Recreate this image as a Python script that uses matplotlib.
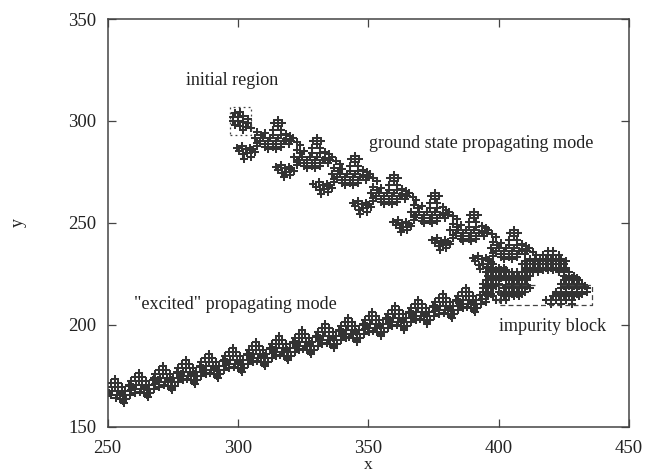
# impurity scattering map: trajectory points in the x-y plane
import matplotlib
matplotlib.use("Agg")
import matplotlib.pyplot as plt

plt.rcParams['font.family'] = ['Liberation Serif', 'DejaVu Serif']

# points
initial_x = [299, 301, 298, 300, 302, 304, 298, 300, 302, 304, 299, 301, 303, 302, 305]
initial_y = [304, 304.5, 302, 302, 302.5, 301, 300, 300, 299.5, 299, 298, 297.5, 297, 295.5, 296.5]

ground_x = [
    315.5, 314, 317, 315.5, 313.5, 316.5, 318.5, 307.5, 310.5, 306.5, 309.5, 312.5, 315.5, 318.5, 321, 307.5, 310.5, 313.5, 316.5, 319.5, 311.5, 314.5, 301.5, 304.5, 300.5, 303.5, 306.5, 302.5,
    309, 313.5, 316.5, 320, 308.5, 311.5, 314.5, 317.5, 320.5, 307.5, 310.5, 313.5, 316.5, 322.5, 324, 303, 305.5, 302, 305, 299.5,
    330.5, 329, 332, 330.5, 328.5, 331.5, 333.5, 322.5, 325.5, 321.5, 324.5, 327.5, 330.5, 333.5, 336, 322.5, 325.5, 328.5, 331.5, 334.5, 326.5, 329.5, 316.5, 319.5, 315.5, 318.5, 321.5, 317.5,
    324, 328.5, 331.5, 335, 323.5, 326.5, 329.5, 332.5, 335.5, 322.5, 325.5, 328.5, 331.5, 337.5, 339, 318, 320.5, 317, 320, 314.5,
    345, 343.5, 346.5, 345, 343, 346, 348, 337, 340, 336, 339, 342, 345, 348, 350.5, 337, 340, 343, 346, 349, 341, 344, 331, 334, 330, 333, 336, 332,
    338.5, 343, 346, 349.5, 338, 341, 344, 347, 350, 337, 340, 343, 346, 352, 353.5, 332.5, 335, 331.5, 334.5, 329,
    360, 358.5, 361.5, 360, 358, 361, 363, 352, 355, 351, 354, 357, 360, 363, 365.5, 352, 355, 358, 361, 364, 356, 359, 346, 349, 345, 348, 351, 347,
    353.5, 358, 361, 364.5, 353, 356, 359, 362, 365, 352, 355, 358, 361, 367, 368.5, 347.5, 350, 346.5, 349.5, 344,
    375.5, 374, 377, 375.5, 373.5, 376.5, 378.5, 367.5, 370.5, 366.5, 369.5, 372.5, 375.5, 378.5, 381, 367.5, 370.5, 373.5, 376.5, 379.5, 371.5, 374.5, 361.5, 364.5, 360.5, 363.5, 366.5, 362.5,
    369, 373.5, 376.5, 380, 368.5, 371.5, 374.5, 377.5, 380.5, 367.5, 370.5, 373.5, 376.5, 382.5, 384, 363, 365.5, 362, 365, 359.5,
    390.5, 389, 392, 390.5, 388.5, 391.5, 393.5, 382.5, 385.5, 381.5, 384.5, 387.5, 390.5, 393.5, 396, 382.5, 385.5, 388.5, 391.5, 394.5, 386.5, 389.5, 376.5, 379.5, 375.5, 378.5, 381.5, 377.5,
    384, 388.5, 391.5, 395, 383.5, 386.5, 389.5, 392.5, 395.5, 382.5, 385.5, 388.5, 391.5, 397.5, 399, 378, 380.5, 377, 380, 374.5,
    406, 404.5, 407.5, 406, 404, 407, 409, 398, 401, 397, 400, 403, 406, 409, 411.5, 398, 401, 404, 407, 410, 402, 405, 392, 395, 391, 394, 397, 393,
    399.5, 404, 407, 410.5, 399, 402, 405, 408, 411, 398, 401, 404, 407, 413, 414.5, 393.5, 396, 392.5, 395.5, 390,
]
ground_y = [
    300.5, 299, 299, 297.5, 295.5, 295.5, 293.5, 294.5, 294, 291.5, 291.5, 291.5, 291.5, 291, 291.5, 289, 288.5, 288.5, 288.5, 288.5, 286, 286, 287.5, 286.5, 285, 284, 284.5, 281.5,
    293, 293, 293, 292.5, 290, 290, 290, 290, 290, 287.5, 287, 287, 287, 289.5, 288, 286, 285.5, 283.5, 282.5, 286.5,
    291.5, 290, 290, 288.5, 286.5, 286.5, 284.5, 285.5, 285, 282.5, 282.5, 282.5, 282.5, 282, 282.5, 280, 279.5, 279.5, 279.5, 279.5, 277, 277, 278.5, 277.5, 276, 275, 275.5, 272.5,
    284, 284, 284, 283.5, 281, 281, 281, 281, 281, 278.5, 278, 278, 278, 280.5, 279, 277, 276.5, 274.5, 273.5, 277.5,
    283, 281.5, 281.5, 280, 278, 278, 276, 277, 276.5, 274, 274, 274, 274, 273.5, 274, 271.5, 271, 271, 271, 271, 268.5, 268.5, 270, 269, 267.5, 266.5, 267, 264,
    275.5, 275.5, 275.5, 275, 272.5, 272.5, 272.5, 272.5, 272.5, 270, 269.5, 269.5, 269.5, 272, 270.5, 268.5, 268, 266, 265, 269,
    273.5, 272, 272, 270.5, 268.5, 268.5, 266.5, 267.5, 267, 264.5, 264.5, 264.5, 264.5, 264, 264.5, 262, 261.5, 261.5, 261.5, 261.5, 259, 259, 260.5, 259.5, 258, 257, 257.5, 254.5,
    266, 266, 266, 265.5, 263, 263, 263, 263, 263, 260.5, 260, 260, 260, 262.5, 261, 259, 258.5, 256.5, 255.5, 259.5,
    264.5, 263, 263, 261.5, 259.5, 259.5, 257.5, 258.5, 258, 255.5, 255.5, 255.5, 255.5, 255, 255.5, 253, 252.5, 252.5, 252.5, 252.5, 250, 250, 251.5, 250.5, 249, 248, 248.5, 245.5,
    257, 257, 257, 256.5, 254, 254, 254, 254, 254, 251.5, 251, 251, 251, 253.5, 252, 250, 249.5, 247.5, 246.5, 250.5,
    255.5, 254, 254, 252.5, 250.5, 250.5, 248.5, 249.5, 249, 246.5, 246.5, 246.5, 246.5, 246, 246.5, 244, 243.5, 243.5, 243.5, 243.5, 241, 241, 242.5, 241.5, 240, 239, 239.5, 236.5,
    248, 248, 248, 247.5, 245, 245, 245, 245, 245, 242.5, 242, 242, 242, 244.5, 243, 241, 240.5, 238.5, 237.5, 241.5,
    246.5, 245, 245, 243.5, 241.5, 241.5, 239.5, 240.5, 240, 237.5, 237.5, 237.5, 237.5, 237, 237.5, 235, 234.5, 234.5, 234.5, 234.5, 232, 232, 233.5, 232.5, 231, 230, 230.5, 227.5,
    239, 239, 239, 238.5, 236, 236, 236, 236, 236, 233.5, 233, 233, 233, 235.5, 234, 232, 231.5, 229.5, 228.5, 232.5,
]

excited_x = [
    252.7, 251.4, 254, 249.9, 252.7, 255.5, 249.2, 251.7, 254.2, 256.7, 251.2, 253.7, 256.2, 254.7, 257.2, 256.2, 258.2, 259.2, 258.7, 260.5, 250.7, 253.2, 255.7, 255.9,
    261.9, 260.6, 263.2, 259.1, 261.9, 264.7, 258.4, 260.9, 263.4, 265.9, 260.4, 262.9, 265.4, 263.9, 266.4, 265.4, 267.4, 268.4, 267.9, 269.7, 259.9, 262.4, 264.9, 265.1,
    271.2, 269.9, 272.5, 268.4, 271.2, 274, 267.7, 270.2, 272.7, 275.2, 269.7, 272.2, 274.7, 273.2, 275.7, 274.7, 276.7, 277.7, 277.2, 279, 269.2, 271.7, 274.2, 274.4,
    280, 278.7, 281.3, 277.2, 280, 282.8, 276.5, 279, 281.5, 284, 278.5, 281, 283.5, 282, 284.5, 283.5, 285.5, 286.5, 286, 287.8, 278, 280.5, 283, 283.2,
    288.8, 287.5, 290.1, 286, 288.8, 291.6, 285.3, 287.8, 290.3, 292.8, 287.3, 289.8, 292.3, 290.8, 293.3, 292.3, 294.3, 295.3, 294.8, 296.6, 286.8, 289.3, 291.8, 292,
    298, 296.7, 299.3, 295.2, 298, 300.8, 294.5, 297, 299.5, 302, 296.5, 299, 301.5, 300, 302.5, 301.5, 303.5, 304.5, 304, 305.8, 296, 298.5, 301, 301.2,
    306.9, 305.6, 308.2, 304.1, 306.9, 309.7, 303.4, 305.9, 308.4, 310.9, 305.4, 307.9, 310.4, 308.9, 311.4, 310.4, 312.4, 313.4, 312.9, 314.7, 304.9, 307.4, 309.9, 310.1,
    315.8, 314.5, 317.1, 313, 315.8, 318.6, 312.3, 314.8, 317.3, 319.8, 314.3, 316.8, 319.3, 317.8, 320.3, 319.3, 321.3, 322.3, 321.8, 323.6, 313.8, 316.3, 318.8, 319,
    324.6, 323.3, 325.9, 321.8, 324.6, 327.4, 321.1, 323.6, 326.1, 328.6, 323.1, 325.6, 328.1, 326.6, 329.1, 328.1, 330.1, 331.1, 330.6, 332.4, 322.6, 325.1, 327.6, 327.8,
    333.5, 332.2, 334.8, 330.7, 333.5, 336.3, 330, 332.5, 335, 337.5, 332, 334.5, 337, 335.5, 338, 337, 339, 340, 339.5, 341.3, 331.5, 334, 336.5, 336.7,
    342.3, 341, 343.6, 339.5, 342.3, 345.1, 338.8, 341.3, 343.8, 346.3, 340.8, 343.3, 345.8, 344.3, 346.8, 345.8, 347.8, 348.8, 348.3, 350.1, 340.3, 342.8, 345.3, 345.5,
    351.5, 350.2, 352.8, 348.7, 351.5, 354.3, 348, 350.5, 353, 355.5, 350, 352.5, 355, 353.5, 356, 355, 357, 358, 357.5, 359.3, 349.5, 352, 354.5, 354.7,
    360.4, 359.1, 361.7, 357.6, 360.4, 363.2, 356.9, 359.4, 361.9, 364.4, 358.9, 361.4, 363.9, 362.4, 364.9, 363.9, 365.9, 366.9, 366.4, 368.2, 358.4, 360.9, 363.4, 363.6,
    369.2, 367.9, 370.5, 366.4, 369.2, 372, 365.7, 368.2, 370.7, 373.2, 367.7, 370.2, 372.7, 371.2, 373.7, 372.7, 374.7, 375.7, 375.2, 377, 367.2, 369.7, 372.2, 372.4,
    378.5, 377.2, 379.8, 375.7, 378.5, 381.3, 375, 377.5, 380, 382.5, 377, 379.5, 382, 380.5, 383, 382, 384, 385, 384.5, 386.3, 376.5, 379, 381.5, 381.7,
    387.3, 386, 388.6, 384.5, 387.3, 390.1, 383.8, 386.3, 388.8, 391.3, 385.8, 388.3, 390.8, 389.3, 391.8, 390.8, 392.8, 393.8, 393.3, 395.1, 385.3, 387.8, 390.3, 390.5,
]
excited_y = [
    173.3, 171.3, 171.3, 169.3, 169.3, 169.3, 167.3, 167.3, 167.3, 167.3, 165.3, 165.3, 165.3, 163.3, 163.3, 161.3, 169.8, 167.8, 165.3, 166.3, 166.3, 163.8, 166.3, 162.3,
    176.3, 174.3, 174.3, 172.3, 172.3, 172.3, 170.3, 170.3, 170.3, 170.3, 168.3, 168.3, 168.3, 166.3, 166.3, 164.3, 172.8, 170.8, 168.3, 169.3, 169.3, 166.8, 169.3, 165.3,
    179.7, 177.7, 177.7, 175.7, 175.7, 175.7, 173.7, 173.7, 173.7, 173.7, 171.7, 171.7, 171.7, 169.7, 169.7, 167.7, 176.2, 174.2, 171.7, 172.7, 172.7, 170.2, 172.7, 168.7,
    182.7, 180.7, 180.7, 178.7, 178.7, 178.7, 176.7, 176.7, 176.7, 176.7, 174.7, 174.7, 174.7, 172.7, 172.7, 170.7, 179.2, 177.2, 174.7, 175.7, 175.7, 173.2, 175.7, 171.7,
    185.6, 183.6, 183.6, 181.6, 181.6, 181.6, 179.6, 179.6, 179.6, 179.6, 177.6, 177.6, 177.6, 175.6, 175.6, 173.6, 182.1, 180.1, 177.6, 178.6, 178.6, 176.1, 178.6, 174.6,
    188.6, 186.6, 186.6, 184.6, 184.6, 184.6, 182.6, 182.6, 182.6, 182.6, 180.6, 180.6, 180.6, 178.6, 178.6, 176.6, 185.1, 183.1, 180.6, 181.6, 181.6, 179.1, 181.6, 177.6,
    191.5, 189.5, 189.5, 187.5, 187.5, 187.5, 185.5, 185.5, 185.5, 185.5, 183.5, 183.5, 183.5, 181.5, 181.5, 179.5, 188, 186, 183.5, 184.5, 184.5, 182, 184.5, 180.5,
    194.5, 192.5, 192.5, 190.5, 190.5, 190.5, 188.5, 188.5, 188.5, 188.5, 186.5, 186.5, 186.5, 184.5, 184.5, 182.5, 191, 189, 186.5, 187.5, 187.5, 185, 187.5, 183.5,
    197.5, 195.5, 195.5, 193.5, 193.5, 193.5, 191.5, 191.5, 191.5, 191.5, 189.5, 189.5, 189.5, 187.5, 187.5, 185.5, 194, 192, 189.5, 190.5, 190.5, 188, 190.5, 186.5,
    200.4, 198.4, 198.4, 196.4, 196.4, 196.4, 194.4, 194.4, 194.4, 194.4, 192.4, 192.4, 192.4, 190.4, 190.4, 188.4, 196.9, 194.9, 192.4, 193.4, 193.4, 190.9, 193.4, 189.4,
    203.4, 201.4, 201.4, 199.4, 199.4, 199.4, 197.4, 197.4, 197.4, 197.4, 195.4, 195.4, 195.4, 193.4, 193.4, 191.4, 199.9, 197.9, 195.4, 196.4, 196.4, 193.9, 196.4, 192.4,
    206.3, 204.3, 204.3, 202.3, 202.3, 202.3, 200.3, 200.3, 200.3, 200.3, 198.3, 198.3, 198.3, 196.3, 196.3, 194.3, 202.8, 200.8, 198.3, 199.3, 199.3, 196.8, 199.3, 195.3,
    209.3, 207.3, 207.3, 205.3, 205.3, 205.3, 203.3, 203.3, 203.3, 203.3, 201.3, 201.3, 201.3, 199.3, 199.3, 197.3, 205.8, 203.8, 201.3, 202.3, 202.3, 199.8, 202.3, 198.3,
    212.2, 210.2, 210.2, 208.2, 208.2, 208.2, 206.2, 206.2, 206.2, 206.2, 204.2, 204.2, 204.2, 202.2, 202.2, 200.2, 208.7, 206.7, 204.2, 205.2, 205.2, 202.7, 205.2, 201.2,
    215.2, 213.2, 213.2, 211.2, 211.2, 211.2, 209.2, 209.2, 209.2, 209.2, 207.2, 207.2, 207.2, 205.2, 205.2, 203.2, 211.7, 209.7, 207.2, 208.2, 208.2, 205.7, 208.2, 204.2,
    218.1, 216.1, 216.1, 214.1, 214.1, 214.1, 212.1, 212.1, 212.1, 212.1, 210.1, 210.1, 210.1, 208.1, 208.1, 206.1, 214.6, 212.6, 210.1, 211.1, 211.1, 208.6, 211.1, 207.1,
]

# the tangle around the impurity, one row of x per y
block_y = [236, 234, 232, 231, 230, 228, 227, 226, 224, 223, 222, 220, 219, 218, 216, 215, 214, 212, 210]
block_x = [
    [419, 421],
    [417, 419, 421, 423],
    [412, 414, 416, 418, 420, 422, 424],
    [410, 412, 414, 416, 418, 420, 422, 424, 426],
    [394, 396, 398, 409, 411, 413, 415, 417, 419, 421, 423, 425],
    [396, 398, 400, 402, 410, 412, 414, 416, 418, 420, 422, 424, 426],
    [397, 399, 401, 403, 411, 413, 415, 417, 419, 421, 423, 425],
    [395, 397, 399, 401, 403, 405, 407, 409, 411, 413, 415, 423, 425, 427],
    [396, 398, 400, 402, 404, 406, 408, 410, 412, 425, 427, 429],
    [397, 399, 401, 403, 405, 407, 409, 411, 426, 428, 430],
    [395, 397, 399, 403, 405, 407, 409, 411, 425, 427, 429, 431],
    [394, 396, 398, 400, 404, 406, 408, 410, 424, 426, 428, 430, 432],
    [395, 397, 399, 403, 405, 407, 409, 411, 425, 427, 429, 431, 433],
    [394, 396, 398, 402, 404, 406, 408, 410, 412, 424, 426, 428, 430, 432, 434],
    [394, 396, 400, 402, 404, 406, 408, 410, 422, 424, 426, 428, 430, 432, 434],
    [395, 397, 401, 403, 405, 407, 409, 422, 424, 426, 428, 430, 432],
    [396, 398, 402, 404, 406, 408, 421, 423, 425, 427, 429, 431],
    [399, 401, 403, 418, 420, 422, 424, 426, 428],
    [420, 424, 428],
]

# the two marked regions
initial_box_x = [297, 305, 305, 297, 297]
initial_box_y = [293, 293, 307, 307, 293]
impurity_box_x = [414, 400, 400, 436, 436, 424]
impurity_box_y = [219.5, 219.5, 209.7, 209.7, 219.5, 219.5]

xticks = [250, 300, 350, 400, 450]
yticks = [150, 200, 250, 300, 350]

fig = plt.figure(figsize=(6.47, 4.72), dpi=100)
ax = fig.add_axes([107.5 / 647, 1 - 426.5 / 472, 521.5 / 647, 407.5 / 472])

dark = '#333333'
mark = dict(linestyle='none', marker='+', markersize=5.2, markeredgewidth=1.45, color=dark)
ax.plot(initial_x, initial_y, **mark)
ax.plot(ground_x, ground_y, **mark)
ax.plot(excited_x, excited_y, **mark)
for y, xs in zip(block_y, block_x):
    ax.plot(xs, [y] * len(xs), **mark)

ax.plot(initial_box_x, initial_box_y, color='#444444', lw=0.9, dashes=(1.5, 2.5))
ax.plot(impurity_box_x, impurity_box_y, color='#444444', lw=0.9, dashes=(4, 2.5))

ax.set_xlim(250, 450)
ax.set_ylim(150, 350)
ax.set_xticks(xticks)
ax.set_yticks(yticks)
ax.tick_params(direction='in', length=6, width=0.9, color='#444444', top=True, right=True,
               labelsize=13.5, labelcolor='#222222', pad=8)
ax.tick_params(axis='x', pad=10)
for s in ax.spines.values():
    s.set_linewidth(1.1)
    s.set_color('#444444')

ax.set_xlabel('x', fontsize=12.5, color='#222222', labelpad=0)
ax.set_ylabel('y', fontsize=13, color='#222222', labelpad=30)

txt = dict(fontsize=13.1, color='#222222', ha='center', va='center')
ax.text(0.2396, 0.8480, 'initial region', transform=ax.transAxes, **txt)
ax.text(0.7165, 0.6933, 'ground state propagating mode', transform=ax.transAxes, **txt)
ax.text(0.2444, 0.3000, '"excited" propagating mode', transform=ax.transAxes, **txt)
ax.text(0.8543, 0.2460, 'impurity block', transform=ax.transAxes, **txt)

fig.savefig('out.png', dpi=100)
